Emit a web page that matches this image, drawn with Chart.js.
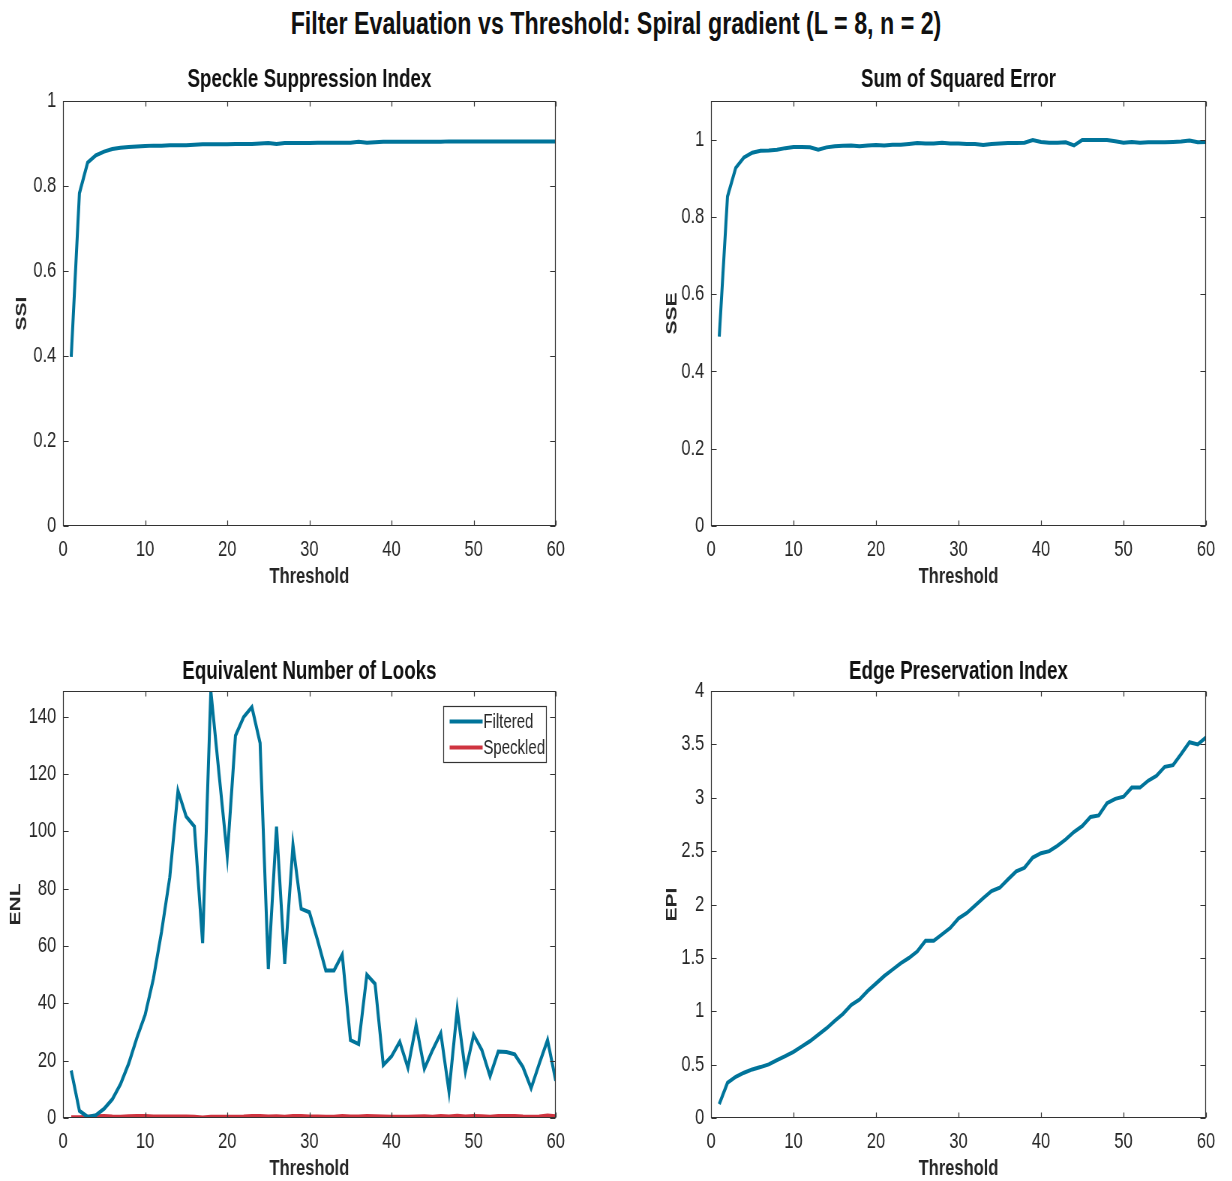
<!DOCTYPE html>
<html>
<head>
<meta charset="utf-8">
<title>Filter Evaluation vs Threshold</title>
<script src="https://cdn.jsdelivr.net/npm/chart.js@4.4.1/dist/chart.umd.min.js"></script>
<style>
  html, body { margin: 0; padding: 0; background: #ffffff; overflow: hidden; }
  body { width: 1232px; height: 1181px; position: relative; }
  #suptitle {
    position: absolute; left: 0; top: 6px; width: 1232px; text-align: center;
    font: bold 31px "Liberation Sans", Arial, sans-serif;
    color: #111111; line-height: 36px;
    transform: scaleX(0.75); transform-origin: 50% 50%;
  }
  /* the figure is laid out in a wider space and narrowed horizontally */
  canvas { position: absolute; transform: scaleX(0.75); transform-origin: 0 0; }
</style>
</head>
<body>
<div id="suptitle">Filter Evaluation vs Threshold: Spiral gradient (L = 8, n = 2)</div>
<canvas id="cSSI" style="left:0px; top:64px;" width="768" height="526"></canvas>
<canvas id="cSSE" style="left:648px; top:64px;" width="771" height="526"></canvas>
<canvas id="cENL" style="left:0px; top:654px;" width="768" height="528"></canvas>
<canvas id="cEPI" style="left:648px; top:654px;" width="771" height="528"></canvas>
<script>
// Threshold values (x axis)
const thresholds = [1,2,3,4,5,6,7,8,9,10,11,12,13,14,15,16,17,18,19,20,
  21,22,23,24,25,26,27,28,29,30,31,32,33,34,35,36,37,38,39,40,
  41,42,43,44,45,46,47,48,49,50,51,52,53,54,55,56,57,58,59,60];

// Speckle Suppression Index
const ssiValues = [0.398,0.783,0.855,0.872,0.881,0.887,0.890,0.892,0.893,0.894,
  0.895,0.895,0.896,0.896,0.896,0.897,0.898,0.898,0.898,0.898,
  0.899,0.899,0.899,0.900,0.901,0.899,0.901,0.901,0.901,0.901,
  0.902,0.902,0.902,0.902,0.902,0.904,0.902,0.903,0.904,0.904,
  0.904,0.904,0.904,0.904,0.904,0.904,0.905,0.905,0.905,0.905,
  0.905,0.905,0.905,0.905,0.905,0.905,0.905,0.905,0.905,0.905];

// Sum of Squared Error
const sseValues = [0.490,0.853,0.927,0.954,0.966,0.971,0.972,0.974,0.978,0.981,
  0.981,0.980,0.974,0.980,0.983,0.984,0.985,0.983,0.985,0.986,
  0.985,0.987,0.987,0.989,0.991,0.990,0.990,0.992,0.990,0.990,
  0.989,0.989,0.986,0.989,0.990,0.991,0.991,0.992,0.999,0.994,
  0.992,0.992,0.993,0.985,0.999,0.999,0.999,0.999,0.996,0.992,
  0.994,0.992,0.993,0.993,0.993,0.994,0.995,0.998,0.993,0.994];

// Equivalent Number of Looks
const enlFiltered = [16.6,2.5,0.4,1.0,3.2,6.5,11.8,19.0,28.0,36.0,
  48.5,65.0,84.0,114.2,105.2,101.7,61.0,149.0,120.0,91.5,
  133.4,139.9,143.4,130.8,52.0,101.7,53.8,95.3,73.0,71.8,
  62.0,51.5,51.5,57.0,27.2,25.8,50.0,46.8,18.5,21.5,
  26.6,17.5,32.5,17.2,23.7,29.6,9.2,37.9,16.2,29.0,
  23.7,14.6,23.2,23.0,22.2,17.8,10.4,19.0,27.2,13.0];
const enlSpeckled = [0.3,0.3,0.4,0.6,0.7,0.5,0.4,0.6,0.7,0.7,
  0.5,0.5,0.5,0.5,0.5,0.4,0.2,0.4,0.4,0.4,
  0.4,0.5,0.7,0.7,0.5,0.6,0.4,0.7,0.7,0.5,
  0.5,0.4,0.4,0.7,0.5,0.5,0.7,0.6,0.5,0.4,
  0.4,0.4,0.5,0.6,0.4,0.7,0.5,0.8,0.5,0.7,
  0.6,0.4,0.7,0.7,0.7,0.5,0.4,0.5,0.9,0.6];

// Edge Preservation Index
const epiValues = [0.13,0.33,0.386,0.424,0.455,0.477,0.502,0.543,0.58,0.62,
  0.67,0.72,0.78,0.84,0.91,0.976,1.06,1.11,1.19,1.26,
  1.33,1.39,1.45,1.50,1.56,1.66,1.66,1.72,1.78,1.87,
  1.92,1.99,2.06,2.125,2.157,2.235,2.31,2.344,2.44,2.48,
  2.50,2.55,2.61,2.68,2.735,2.82,2.835,2.95,2.99,3.01,
  3.095,3.095,3.16,3.205,3.29,3.305,3.41,3.52,3.50,3.565];

// Tick values
const xTicks = [0,10,20,30,40,50,60];
const ssiTicks = [0,0.2,0.4,0.6,0.8,1];
const sseTicks = [0,0.2,0.4,0.6,0.8,1];
const enlTicks = [0,20,40,60,80,100,120,140];
const epiTicks = [0,0.5,1,1.5,2,2.5,3,3.5,4];

const FONT = '"Liberation Sans", Arial, sans-serif';
const TEAL = '#00749a';
const RED = '#cf3440';
const INK = '#262626';
const AXIS = '#333333';

function pts(ys) { return thresholds.map((t, i) => ({ x: t, y: ys[i] })); }

// Axes title centred over the plot area
const areaTitle = {
  id: 'areaTitle',
  afterDraw(chart, args, opts) {
    if (!opts || !opts.text) return;
    const { ctx, chartArea: a } = chart;
    ctx.save();
    ctx.font = 'bold 25px ' + FONT;
    ctx.fillStyle = '#111111';
    ctx.textAlign = 'center';
    ctx.textBaseline = 'middle';
    ctx.fillText(opts.text, (a.left + a.right) / 2, a.top - opts.gap);
    ctx.restore();
  }
};

// Draws the axes box with inward tick marks on all four sides
const boxTicks = {
  id: 'boxTicks',
  afterDatasetsDraw(chart) {
    const { ctx, chartArea: a, scales: { x, y } } = chart;
    const L = Math.round(a.left) + 0.5, R = Math.round(a.right) - 0.5;
    const T = Math.round(a.top) + 0.5, B = Math.round(a.bottom) - 0.5;
    const lenV = 5, lenH = 7;
    ctx.save();
    ctx.strokeStyle = AXIS;
    ctx.lineWidth = 1.2;
    ctx.beginPath();
    ctx.rect(L, T, R - L, B - T);
    x.ticks.forEach(t => {
      const px = Math.round(x.getPixelForValue(t.value)) + 0.5;
      ctx.moveTo(px, B); ctx.lineTo(px, B - lenV);
      ctx.moveTo(px, T); ctx.lineTo(px, T + lenV);
    });
    y.ticks.forEach(t => {
      const py = Math.round(y.getPixelForValue(t.value)) + 0.5;
      ctx.moveTo(L, py); ctx.lineTo(L + lenH, py);
      ctx.moveTo(R, py); ctx.lineTo(R - lenH, py);
    });
    ctx.stroke();
    ctx.restore();
  }
};

// Boxed legend in the upper right corner of the plot area
const cornerLegend = {
  id: 'cornerLegend',
  afterDraw(chart, args, opts) {
    if (!opts || !opts.show) return;
    const { ctx, chartArea: a } = chart;
    const w = 137, h = 56;
    const bx = Math.round(a.right) - 13 - w + 0.5;
    const by = Math.round(a.top) + 15 + 0.5;
    ctx.save();
    ctx.fillStyle = '#ffffff';
    ctx.fillRect(bx, by, w, h);
    ctx.strokeStyle = AXIS;
    ctx.lineWidth = 1.2;
    ctx.strokeRect(bx, by, w, h);
    ctx.font = '20px ' + FONT;
    ctx.textBaseline = 'middle';
    ctx.textAlign = 'left';
    chart.data.datasets.forEach((ds, i) => {
      const cy = by + 15 + i * 26;
      ctx.strokeStyle = ds.borderColor;
      ctx.lineWidth = 4;
      ctx.beginPath();
      ctx.moveTo(bx + 8, cy); ctx.lineTo(bx + 52, cy);
      ctx.stroke();
      ctx.fillStyle = INK;
      ctx.fillText(ds.label, bx + 53, cy + 1);
    });
    ctx.restore();
  }
};

function makeChart(id, cfg) {
  const datasets = cfg.series.map(s => ({
    label: s.label,
    data: pts(s.values),
    borderColor: s.color,
    backgroundColor: s.color,
    borderWidth: 4,
    pointRadius: 0,
    tension: 0,
    fill: false
  }));
  return new Chart(document.getElementById(id), {
    type: 'line',
    data: { datasets },
    options: {
      responsive: false,
      animation: false,
      events: [],
      layout: { padding: { left: 0, right: 27, top: 37, bottom: 0 } },
      plugins: {
        legend: { display: false },
        tooltip: { enabled: false },
        title: { display: false },
        areaTitle: { text: cfg.title, gap: cfg.titleGap },
        cornerLegend: { show: !!cfg.legend }
      },
      scales: {
        x: {
          type: 'linear',
          min: 0, max: 60,
          afterBuildTicks: s => { s.ticks = xTicks.map(v => ({ value: v })); },
          afterFit: s => { s.height = 64; },
          grid: { display: false, drawTicks: false },
          border: { display: false },
          ticks: {
            color: INK, padding: 11, maxRotation: 0,
            font: { family: FONT, size: 22, lineHeight: '26px' },
            callback: v => String(v)
          },
          title: {
            display: true, text: 'Threshold', color: INK,
            font: { family: FONT, size: 22, weight: 'bold', lineHeight: '26px' },
            padding: { top: 0, bottom: 0 }
          }
        },
        y: {
          type: 'linear',
          min: cfg.yMin, max: cfg.yMax,
          afterBuildTicks: s => { s.ticks = cfg.yTicks.map(v => ({ value: v })); },
          afterFit: s => { s.width = 84; },
          grid: { display: false, drawTicks: false },
          border: { display: false },
          ticks: {
            color: INK, padding: 9,
            font: { family: FONT, size: 22, lineHeight: '26px' },
            callback: v => String(Math.round(v * 100) / 100)
          },
          title: {
            display: true, text: cfg.yLabel, color: INK,
            font: { family: FONT, size: 21, weight: 'bold', lineHeight: '20px' },
            padding: { top: cfg.yTitlePad, bottom: 0 }
          }
        }
      }
    },
    plugins: [boxTicks, cornerLegend, areaTitle]
  });
}

makeChart('cSSI', {
  title: 'Speckle Suppression Index', titleGap: 21, yLabel: 'SSI', yTitlePad: 19,
  yMin: 0, yMax: 1, yTicks: ssiTicks,
  series: [{ label: 'SSI', values: ssiValues, color: TEAL }]
});
makeChart('cSSE', {
  title: 'Sum of Squared Error', titleGap: 21, yLabel: 'SSE', yTitlePad: 22,
  yMin: 0, yMax: 1.1, yTicks: sseTicks,
  series: [{ label: 'SSE', values: sseValues, color: TEAL }]
});
makeChart('cENL', {
  title: 'Equivalent Number of Looks', titleGap: 19, yLabel: 'ENL', yTitlePad: 11,
  yMin: 0, yMax: 149, yTicks: enlTicks, legend: true,
  series: [
    { label: 'Filtered', values: enlFiltered, color: TEAL },
    { label: 'Speckled', values: enlSpeckled, color: RED }
  ]
});
makeChart('cEPI', {
  title: 'Edge Preservation Index', titleGap: 19, yLabel: 'EPI', yTitlePad: 22,
  yMin: 0, yMax: 4, yTicks: epiTicks,
  series: [{ label: 'EPI', values: epiValues, color: TEAL }]
});
</script>
</body>
</html>
